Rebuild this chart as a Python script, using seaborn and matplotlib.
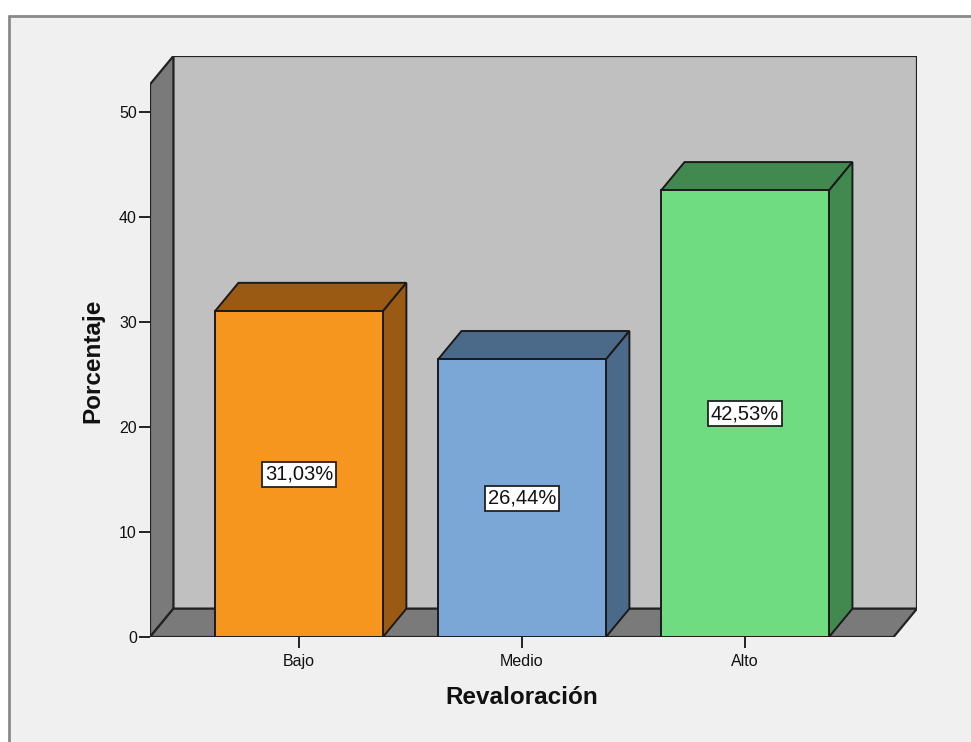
import matplotlib
matplotlib.use("Agg")
import matplotlib.pyplot as plt
from matplotlib.patches import Polygon, Rectangle
from matplotlib.lines import Line2D
import seaborn as sns
import pandas as pd

# Data
categories = ["Bajo", "Medio", "Alto"]
percentages = [31.03, 26.44, 42.53]
value_labels = ["31,03%", "26,44%", "42,53%"]
y_ticks = [0, 10, 20, 30, 40, 50]

front_colors = ["#f7961e", "#7ba7d6", "#6fdc82"]
shade_colors = ["#9a5a14", "#4b6a89", "#42894f"]

sns.set_theme(style="white")
plt.rcParams["font.family"] = ["Liberation Sans", "DejaVu Sans"]

W, H = 971, 742
fig = plt.figure(figsize=(W / 100, H / 100), dpi=100)
fig.patch.set_facecolor("white")

# Panel background and its frame
fig.patches.append(Rectangle((8 / W, 0), 1 - 8 / W, (H - 15) / H, transform=fig.transFigure,
                             facecolor="#f0f0f0", edgecolor="none", zorder=-10))
fig.lines.append(Line2D([8.5 / W, 1], [(H - 15.5) / H] * 2, transform=fig.transFigure,
                        color="#8a8a8a", lw=2.0))
fig.lines.append(Line2D([8.5 / W] * 2, [0, (H - 15.5) / H], transform=fig.transFigure,
                        color="#8a8a8a", lw=2.0))

# Plot box: front-left at x=150px, back-right at x=917px, floor at 637px, top at 56px
left_px, right_px, top_px, bot_px = 150, 917, 56, 637
ax = fig.add_axes([left_px / W, (H - bot_px) / H, (right_px - left_px) / W, (bot_px - top_px) / H])
ax.set_facecolor("none")

ymax = (bot_px - top_px) / 10.5
xl, xr_back = -0.668, 2.771
dx, dy = 0.105, 2.7
xr = xr_back - dx
ax.set_xlim(xl, xr_back)
ax.set_ylim(0, ymax)

wall_gray = "#7a7a7a"
# Back wall
ax.add_patch(Polygon([(xl + dx, dy), (xr + dx, dy), (xr + dx, ymax), (xl + dx, ymax)],
                     closed=True, facecolor="#c0c0c0", edgecolor="#222222", lw=1.6, zorder=0))
# Left wall
ax.add_patch(Polygon([(xl, 0), (xl + dx, dy), (xl + dx, ymax), (xl, ymax - dy)],
                     closed=True, facecolor=wall_gray, edgecolor="#222222", lw=1.6, zorder=1))
# Floor
ax.add_patch(Polygon([(xl, 0), (xr, 0), (xr + dx, dy), (xl + dx, dy)],
                     closed=True, facecolor=wall_gray, edgecolor="#222222", lw=1.6, zorder=1))

# Front faces of the bars
df = pd.DataFrame({"cat": categories, "pct": percentages})
bar_w = 0.753
sns.barplot(data=df, x="cat", y="pct", hue="cat", palette=front_colors, legend=False,
            width=bar_w, edgecolor="#1a1a1a", linewidth=1.4, ax=ax, zorder=3, saturation=1)
ax.set_xlim(xl, xr_back)
ax.set_ylim(0, ymax)

# Top and side faces of the bars
for i, (v, sc) in enumerate(zip(percentages, shade_colors)):
    x0, x1 = i - bar_w / 2, i + bar_w / 2
    ax.add_patch(Polygon([(x0, v), (x1, v), (x1 + dx, v + dy), (x0 + dx, v + dy)],
                         closed=True, facecolor=sc, edgecolor="#1a1a1a", lw=1.4, zorder=2))
    ax.add_patch(Polygon([(x1, 0), (x1 + dx, dy), (x1 + dx, v + dy), (x1, v)],
                         closed=True, facecolor=sc, edgecolor="#1a1a1a", lw=1.4, zorder=2))
    ax.text(i, v / 2, value_labels[i], ha="center", va="center", fontsize=14.5, color="#111111",
            zorder=5, bbox=dict(boxstyle="square,pad=0.15", facecolor="white",
                                edgecolor="#222222", lw=1.3))

for s in ax.spines.values():
    s.set_visible(False)

ax.set_yticks(y_ticks)
ax.set_yticklabels([str(t) for t in y_ticks])
ax.set_xticks(range(len(categories)))
ax.set_xticklabels(categories)
ax.tick_params(axis="both", direction="out", length=8, width=1.4, color="#222222",
               labelsize=11.5, labelcolor="#111111", pad=1.5, left=True, bottom=True)
ax.tick_params(axis="x", pad=4)

ax.set_xlabel("Revaloración", fontsize=17.5, fontweight="bold", color="#111111")
ax.set_ylabel("Porcentaje", fontsize=17.5, fontweight="bold", color="#111111")
ax.xaxis.set_label_coords((522 - left_px) / (right_px - left_px), -(698 - bot_px) / (bot_px - top_px))
ax.xaxis.label.set_va("center")
ax.yaxis.set_label_coords(-(150 - 93) / (right_px - left_px), (637 - 361) / (bot_px - top_px))
ax.yaxis.label.set_va("center")

fig.savefig("out.png", dpi=100, facecolor=fig.get_facecolor())
